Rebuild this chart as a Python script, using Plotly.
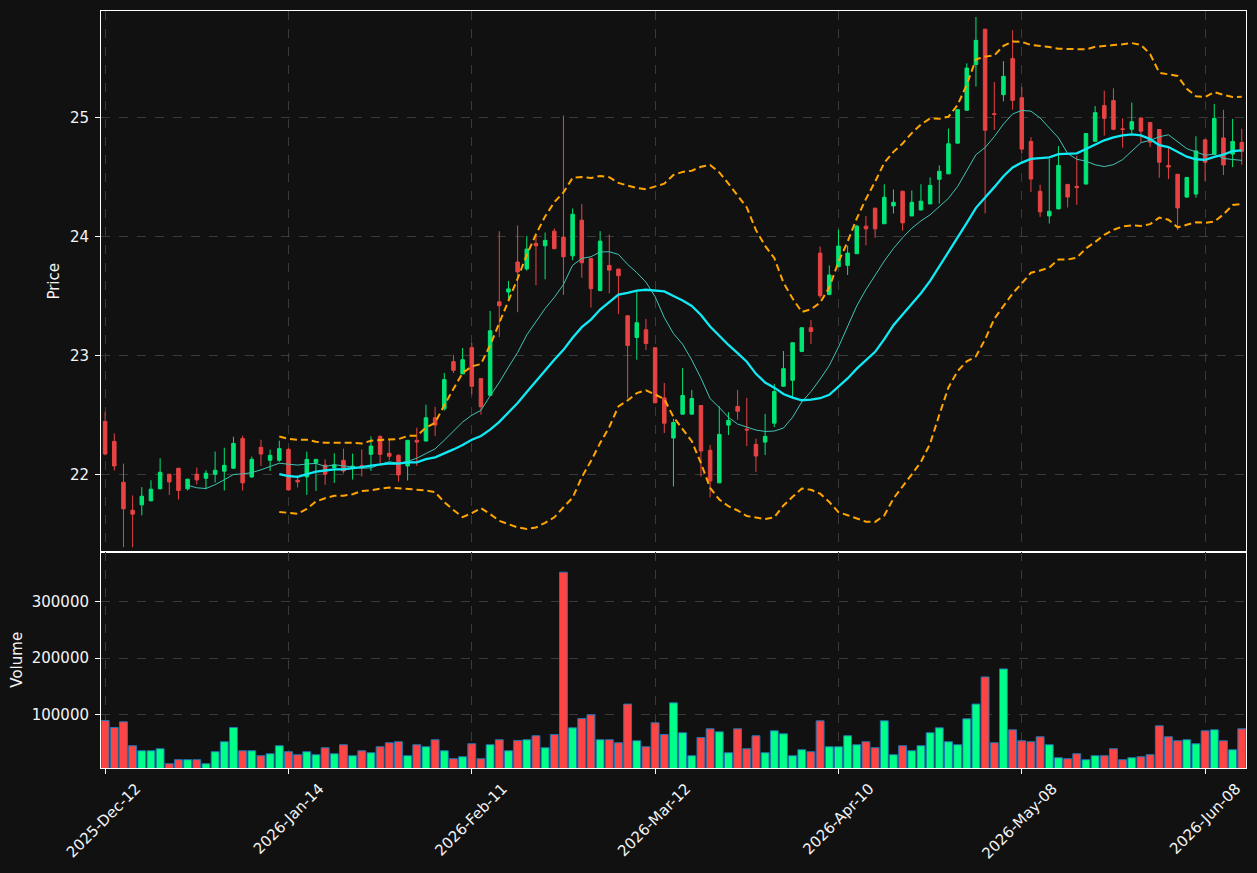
import numpy as np
import pandas as pd
import plotly.graph_objects as go
from plotly.subplots import make_subplots

# ---------------- data ----------------
holidays = ["2025-12-25", "2025-12-26", "2026-01-01", "2026-02-16", "2026-04-03", "2026-05-25"]
dates = pd.bdate_range("2025-12-12", periods=140, freq="C", holidays=holidays)[:125]
date_labels = [d.strftime("%Y-%b-%d") for d in dates]

open_ = [22.447, 22.279, 21.935, 21.700, 21.745, 21.779, 21.880, 22.003, 22.053, 21.880,
         22.003, 21.969, 22.003, 22.028, 22.053, 22.304, 21.980, 22.229, 22.120, 22.120,
         22.212, 21.952, 21.980, 22.100, 22.080, 22.059, 22.120, 22.056, 22.075, 22.170,
         22.321, 22.179, 22.162, 22.072, 22.288, 22.282, 22.478, 22.553, 22.950, 22.847,
         23.067, 22.807, 22.667, 23.453, 23.536, 23.788, 23.730, 23.945, 23.925, 24.048,
         23.998, 23.840, 24.140, 23.818, 23.547, 23.759, 23.729, 23.336, 23.153, 23.218,
         23.067, 22.645, 22.307, 22.508, 22.508, 22.581, 22.204, 21.930, 22.416, 22.573,
         22.382, 22.254, 22.273, 22.432, 22.743, 22.793, 23.036, 23.235, 23.863, 23.514,
         23.748, 23.760, 23.858, 24.090, 24.241, 24.110, 24.260, 24.383, 24.176, 24.226,
         24.277, 24.484, 24.530, 24.788, 25.065, 25.450, 25.747, 25.036, 25.196, 25.500,
         25.170, 24.802, 24.383, 24.176, 24.235, 24.441, 24.425, 24.444, 24.804, 25.104,
         25.146, 24.909, 24.905, 25.000, 24.962, 24.903, 24.601, 24.526, 24.335, 24.360,
         24.816, 24.696, 24.832, 24.696, 24.794]
high = [22.528, 22.346, 22.092, 21.824, 21.894, 21.952, 22.137, 22.006, 22.056, 21.965,
        22.059, 22.036, 22.193, 22.226, 22.318, 22.327, 22.151, 22.293, 22.210, 22.285,
        22.225, 21.994, 22.193, 22.128, 22.128, 22.179, 22.218, 22.176, 22.212, 22.321,
        22.330, 22.304, 22.170, 22.290, 22.394, 22.587, 22.570, 22.855, 23.008, 23.065,
        23.106, 22.810, 23.377, 24.048, 23.629, 24.095, 24.008, 24.013, 24.036, 24.070,
        25.020, 24.238, 24.277, 23.820, 24.048, 24.019, 23.730, 23.340, 23.547, 23.310,
        23.070, 22.771, 22.469, 22.897, 22.712, 22.584, 22.248, 22.575, 22.525, 22.712,
        22.645, 22.302, 22.511, 22.763, 23.039, 23.112, 23.240, 23.300, 23.919, 23.760,
        24.060, 23.925, 24.100, 24.176, 24.245, 24.442, 24.398, 24.390, 24.390, 24.442,
        24.500, 24.601, 24.911, 25.072, 25.460, 25.850, 25.750, 25.303, 25.478, 25.738,
        25.260, 24.838, 24.439, 24.657, 24.763, 24.443, 24.682, 24.872, 25.101, 25.230,
        25.250, 24.997, 25.129, 25.003, 24.965, 24.906, 24.750, 24.529, 24.502, 24.846,
        24.819, 25.117, 25.068, 24.992, 24.909]
low = [22.162, 22.034, 21.388, 21.388, 21.656, 21.775, 21.876, 21.829, 21.790, 21.866,
       21.916, 21.877, 21.933, 21.866, 22.050, 21.866, 21.971, 22.072, 22.030, 22.106,
       21.865, 21.891, 21.829, 21.862, 21.913, 21.930, 22.011, 21.958, 21.983, 22.030,
       22.092, 22.120, 21.941, 21.950, 22.072, 22.280, 22.324, 22.539, 22.855, 22.845,
       22.673, 22.505, 22.665, 23.157, 23.470, 23.366, 23.715, 23.593, 23.643, 23.900,
       23.511, 23.804, 23.656, 23.405, 23.545, 23.525, 23.350, 22.640, 22.966, 23.048,
       22.600, 22.349, 21.900, 22.506, 22.506, 21.983, 21.807, 21.928, 22.332, 22.461,
       22.240, 22.022, 22.164, 22.399, 22.740, 22.640, 23.030, 23.098, 23.484, 23.510,
       23.745, 23.679, 23.855, 23.928, 23.992, 24.108, 24.196, 24.051, 24.174, 24.224,
       24.275, 24.280, 24.528, 24.786, 25.063, 25.264, 24.196, 24.900, 25.140, 25.070,
       24.700, 24.377, 24.168, 24.112, 24.233, 24.247, 24.270, 24.442, 24.800, 24.852,
       24.897, 24.750, 24.872, 24.796, 24.754, 24.497, 24.486, 24.057, 24.326, 24.330,
       24.470, 24.690, 24.520, 24.586, 24.607]
close = [22.173, 22.072, 21.712, 21.667, 21.818, 21.877, 22.019, 21.938, 21.866, 21.961,
         21.955, 22.011, 22.036, 22.078, 22.262, 21.930, 22.128, 22.173, 22.162, 22.218,
         21.871, 21.938, 22.128, 22.128, 22.003, 22.080, 22.030, 22.072, 22.070, 22.240,
         22.170, 22.154, 21.997, 22.288, 22.273, 22.478, 22.416, 22.799, 22.877, 22.966,
         22.743, 22.570, 23.210, 23.420, 23.562, 23.705, 23.897, 23.925, 23.970, 23.900,
         23.832, 24.190, 23.782, 23.564, 23.964, 23.720, 23.673, 23.086, 23.277, 23.103,
         22.604, 22.432, 22.438, 22.665, 22.640, 22.198, 21.946, 22.338, 22.455, 22.533,
         22.375, 22.156, 22.321, 22.698, 22.891, 23.109, 23.235, 23.204, 23.505, 23.679,
         23.922, 23.863, 24.090, 24.067, 24.067, 24.333, 24.291, 24.118, 24.291, 24.300,
         24.433, 24.551, 24.783, 25.070, 25.420, 25.653, 24.897, 25.030, 25.350, 25.148,
         24.738, 24.486, 24.210, 24.215, 24.601, 24.335, 24.414, 24.869, 25.045, 24.997,
         24.905, 24.903, 24.969, 24.889, 24.796, 24.628, 24.587, 24.243, 24.500, 24.723,
         24.628, 24.997, 24.605, 24.802, 24.720]
volume = [89300, 76900, 87000, 44500, 35600, 35600, 39200, 12600, 19700, 19700,
          19700, 12600, 33900, 51600, 76900, 35600, 35600, 26800, 30300, 44500,
          33900, 28600, 33900, 28600, 40900, 30300, 46300, 26800, 35600, 32100,
          42700, 49800, 51600, 26800, 46300, 42700, 55100, 35600, 21500, 25000,
          48000, 21500, 46300, 55100, 35600, 53900, 55100, 62200, 41000, 64500,
          352500, 76300, 92900, 99400, 55100, 55100, 49800, 118400, 53300, 42700,
          85200, 64500, 120600, 67500, 26800, 59200, 74600, 69100, 32100, 74600,
          39200, 62200, 32100, 71000, 65700, 26800, 37400, 33900, 88700, 42700,
          42700, 62200, 46300, 51600, 41000, 88700, 28600, 44500, 35600, 44500,
          67500, 76300, 51600, 46300, 92300, 118400, 166600, 49800, 180800, 72800,
          53300, 51600, 60400, 46300, 23200, 21500, 30300, 19700, 26800, 26800,
          39200, 19700, 23200, 25000, 28600, 79900, 60400, 53300, 55100, 48000,
          71000, 72800, 53300, 37400, 74600]

# ---------------- indicators ----------------
idx = np.arange(len(close))
cs = pd.Series(close)
sma10 = cs.rolling(10).mean()
sma20 = cs.rolling(20).mean()
std20 = cs.rolling(20).std(ddof=0)
bb_up = sma20 + 2 * std20
bb_lo = sma20 - 2 * std20

UP_C, DN_C = "#00e676", "#e84343"
VUP_C, VDN_C = "#00ff88", "#ff4444"
BG = "#111111"
FONT = dict(family="DejaVu Sans", size=15, color="#f4f4f4")

fig = make_subplots(rows=2, cols=1, shared_xaxes=True, vertical_spacing=0,
                    row_heights=[0.7141, 0.2859])

fig.add_trace(go.Candlestick(
    x=idx, open=open_, high=high, low=low, close=close,
    increasing=dict(line=dict(color=UP_C, width=1), fillcolor=UP_C),
    decreasing=dict(line=dict(color=DN_C, width=1), fillcolor=DN_C),
    whiskerwidth=0, showlegend=False), row=1, col=1)

fig.add_trace(go.Scatter(x=idx, y=sma10, mode="lines",
                         line=dict(color="#40c4b4", width=1), showlegend=False), row=1, col=1)
fig.add_trace(go.Scatter(x=idx, y=sma20, mode="lines",
                         line=dict(color="#10eaf5", width=2.3), showlegend=False), row=1, col=1)
fig.add_trace(go.Scatter(x=idx, y=bb_up, mode="lines",
                         line=dict(color="#ffa500", width=2, dash="7px,4px"), showlegend=False), row=1, col=1)
fig.add_trace(go.Scatter(x=idx, y=bb_lo, mode="lines",
                         line=dict(color="#ffa500", width=2, dash="7px,4px"), showlegend=False), row=1, col=1)

vcolors = [VUP_C if c >= o else VDN_C for o, c in zip(open_, close)]
fig.add_trace(go.Bar(x=idx, y=volume, width=0.86,
                     marker=dict(color=vcolors, line=dict(color="#1f77b4", width=1)),
                     showlegend=False), row=2, col=1)

tick_pos = list(idx[::20])
tick_txt = [date_labels[i] for i in tick_pos]

axis_common = dict(showline=True, linecolor="white", linewidth=1, mirror=True,
                   showgrid=True, gridcolor="#3a3a3a", griddash="dash", gridwidth=1,
                   zeroline=False, ticks="outside", tickcolor="white", ticklen=5,
                   tickfont=FONT)

fig.update_xaxes(**axis_common, range=[-0.45, 124.46], tickvals=tick_pos, ticktext=tick_txt,
                 rangeslider_visible=False)
fig.update_xaxes(showticklabels=False, row=1, col=1)
fig.update_xaxes(tickangle=-45, ticklabelshift=31, row=2, col=1)

fig.update_yaxes(**axis_common, ticklabelstandoff=3)
fig.update_yaxes(range=[21.352, 25.90], tickvals=[22, 23, 24, 25],
                 title=dict(text="Price", font=FONT, standoff=6), row=1, col=1)
fig.update_yaxes(range=[5000, 389000], tickvals=[100000, 200000, 300000], tickformat="d",
                 title=dict(text="Volume", font=FONT, standoff=5), row=2, col=1)

fig.update_layout(
    width=1257, height=873,
    margin=dict(l=101, r=10, t=10, b=103),
    paper_bgcolor=BG, plot_bgcolor=BG,
    font=FONT, showlegend=False, boxgap=0.45,
    xaxis_rangeslider_visible=False,
)

fig.write_html("out.html")
